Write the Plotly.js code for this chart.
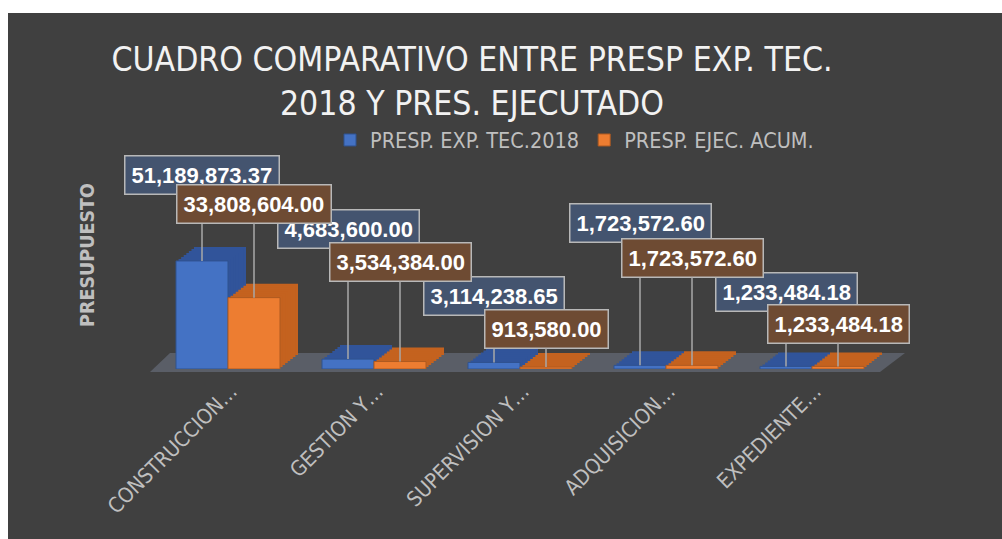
<!DOCTYPE html>
<html>
<head>
<meta charset="utf-8">
<script src="https://cdn.plot.ly/plotly-3.0.1.min.js"></script>
<style>
  html, body { margin: 0; padding: 0; background: #ffffff; width: 1002px; height: 539px; overflow: hidden; }
  #chart { position: absolute; left: 8px; top: 13px; width: 994px; height: 526px; }
</style>
</head>
<body>
<div id="chart"></div>
<script>
// ---------------- DATA ----------------
const categories = ['CONSTRUCCION…', 'GESTION Y…', 'SUPERVISION Y…', 'ADQUISICION…', 'EXPEDIENTE…'];
const seriesNames = ['PRESP. EXP. TEC.2018', 'PRESP. EJEC. ACUM.'];
const presExpTec2018 = [51189873.37, 4683600.00, 3114238.65, 1723572.60, 1233484.18];
const presEjecAcum = [33808604.00, 3534384.00, 913580.00, 1723572.60, 1233484.18];
const chartTitle = 'CUADRO COMPARATIVO ENTRE PRESP EXP. TEC.<br>2018 Y PRES. EJECUTADO';
const yTitle = 'PRESUPUESTO';

// ---------------- LAYOUT / STYLE ----------------
const W = 994, H = 526;
const M = { l: 147, r: 117, t: 128, b: 170 };
const plotW = W - M.l - M.r, plotH = H - M.t - M.b;
const yMax = 108e6;
const pxPerUnitY = plotH / yMax;
const pxPerCat = plotW / 5;
const barW = 52 / pxPerCat;
const depthDxPx = 18, depthDyPx = 14, steps = 7;
const NARROW = "'Liberation Sans Narrow', 'DejaVu Sans Condensed', 'Arial Narrow', sans-serif";
const BOLDF = "'Liberation Sans', Arial, sans-serif";

const series = [
  { name: seriesNames[0], values: presExpTec2018, offset: -barW, front: '#4472c4', line: '#2f528f', depth: '#31549a',
    labelBg: '#44546f', labelPageY: [175, 229, 296, 223, 292] },
  { name: seriesNames[1], values: presEjecAcum, offset: 0, front: '#ed7d31', line: '#ae5a21', depth: '#c4621f',
    labelBg: '#6e4b33', labelPageY: [204, 262, 329, 258, 324] }
];
const xIdx = categories.map((c, i) => i);

const traces = [];
series.forEach(s => {
  // depth (top + side faces) approximated by staggered rectangles, back to front
  for (let k = steps; k >= 1; k--) {
    const dx = (depthDxPx * k / steps) / pxPerCat;
    const dy = (depthDyPx * k / steps) / pxPerUnitY;
    traces.push({
      type: 'bar', x: xIdx, y: s.values, base: xIdx.map(() => dy),
      offset: s.offset + dx, width: barW,
      marker: { color: s.depth, line: { width: 0 } },
      showlegend: false, hoverinfo: 'skip'
    });
  }
  traces.push({
    type: 'bar', name: s.name, x: xIdx, y: s.values,
    offset: s.offset, width: barW,
    marker: { color: s.front, line: { color: s.line, width: 1 } },
    hovertemplate: '%{y:,.2f}<extra>' + s.name + '</extra>'
  });
});

function fmt(v) {
  return v.toLocaleString('en-US', { minimumFractionDigits: 2, maximumFractionDigits: 2 });
}

const annotations = [];
series.forEach(s => {
  s.values.forEach((v, i) => {
    const barTopDivY = M.t + plotH - v * pxPerUnitY;
    const labelDivY = s.labelPageY[i] - 13;
    annotations.push({
      x: i + s.offset + barW / 2, y: v, xref: 'x', yref: 'y',
      text: fmt(v), showarrow: true, arrowhead: 0, arrowwidth: 1.5, arrowcolor: '#a8a8a8',
      standoff: 0, ax: 0, ay: labelDivY - barTopDivY, axref: 'pixel', ayref: 'pixel',
      font: { family: BOLDF, size: 22, color: '#ffffff', weight: 'bold' },
      bgcolor: s.labelBg, bordercolor: '#b8b8b8', borderwidth: 1.5, borderpad: 6
    });
  });
});

function pp(X, Y) { return [(X - 8 - M.l) / plotW, (M.t + plotH - (Y - 13)) / plotH]; }
const f1 = pp(150, 372), f2 = pp(880, 372), f3 = pp(905, 353), f4 = pp(170, 353);

const layout = {
  width: W, height: H,
  paper_bgcolor: '#404040', plot_bgcolor: 'rgba(0,0,0,0)',
  margin: M,
  barmode: 'overlay',
  title: {
    text: chartTitle, x: 464 / W, xanchor: 'center', y: 1 - 58 / H, yanchor: 'top', yref: 'container',
    font: { family: NARROW, size: 33.5, color: '#f2f2f2' }
  },
  showlegend: true,
  legend: {
    orientation: 'h', x: (330 - 8 - M.l) / plotW, xanchor: 'left', y: (M.t + plotH - 127) / plotH, yanchor: 'middle',
    font: { family: NARROW, size: 21.5, color: '#bfbfbf' }, bgcolor: 'rgba(0,0,0,0)', traceorder: 'normal'
  },
  xaxis: {
    range: [-0.5, 4.5], tickvals: xIdx, ticktext: categories, tickangle: -45,
    showgrid: false, zeroline: false, showline: false, ticks: '',
    tickfont: { family: NARROW, size: 21, color: '#bfbfbf' },
    ticklabelshift: 3, ticklabelstandoff: 5, automargin: false, fixedrange: true
  },
  yaxis: {
    range: [0, yMax], showgrid: false, zeroline: false, showline: false, ticks: '', showticklabels: false,
    title: { text: yTitle, font: { family: NARROW, size: 19.5, color: '#bfbfbf', weight: 'bold' }, standoff: 54 },
    automargin: false, fixedrange: true
  },
  shapes: [{
    type: 'path', xref: 'paper', yref: 'paper', layer: 'below',
    path: `M${f1[0]},${f1[1]} L${f2[0]},${f2[1]} L${f3[0]},${f3[1]} L${f4[0]},${f4[1]} Z`,
    fillcolor: 'rgba(96,101,112,0.8)', line: { width: 0 }
  }],
  annotations: annotations
};

Plotly.newPlot('chart', traces, layout, { displayModeBar: false, staticPlot: false });
</script>
</body>
</html>
